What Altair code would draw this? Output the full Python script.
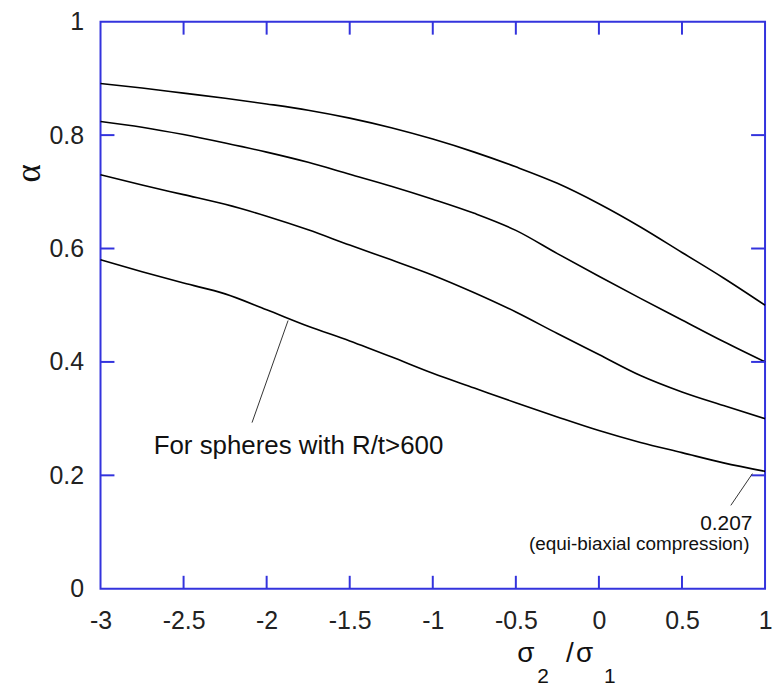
import altair as alt
import pandas as pd

# ---- data ----
x_vals = [-3.0, -2.75, -2.5, -2.25, -2.0, -1.75, -1.5, -1.25, -1.0,
          -0.75, -0.5, -0.25, 0.0, 0.25, 0.5, 0.75, 1.0]
curve_a = [0.891, 0.883, 0.874, 0.865, 0.855, 0.844, 0.830, 0.813, 0.793,
           0.770, 0.744, 0.715, 0.679, 0.638, 0.593, 0.548, 0.500]
curve_b = [0.824, 0.814, 0.801, 0.786, 0.770, 0.752, 0.731, 0.710, 0.687,
           0.662, 0.632, 0.591, 0.551, 0.512, 0.474, 0.436, 0.400]
curve_c = [0.730, 0.712, 0.695, 0.678, 0.657, 0.633, 0.606, 0.580, 0.553,
           0.522, 0.488, 0.450, 0.413, 0.376, 0.347, 0.323, 0.300]
curve_d = [0.580, 0.559, 0.539, 0.520, 0.492, 0.463, 0.437, 0.409, 0.380,
           0.354, 0.328, 0.303, 0.279, 0.258, 0.240, 0.222, 0.207]

x_tick_values = [-3, -2.5, -2, -1.5, -1, -0.5, 0, 0.5, 1]
y_tick_values = [0, 0.2, 0.4, 0.6, 0.8, 1]
inner_x_ticks = [-2.5, -2, -1.5, -1, -0.5, 0, 0.5]
inner_y_ticks = [0.2, 0.4, 0.6, 0.8]

# leader lines (start on curve -> end near label)
lead_x1 = [-1.871, 0.924]
lead_y1 = [0.473, 0.203]
lead_x2 = [-2.088, 0.794]
lead_y2 = [0.293, 0.147]

note_main = "For spheres with R/t>600"
note_value = "0.207"
note_paren = "(equi-biaxial compression)"

# ---- layout / style ----
W, H = 668, 570
BLUE = "#3333dd"
SANS = "Liberation Sans, Arial, Helvetica, sans-serif"

rows = []
for name, ys in [("a", curve_a), ("b", curve_b), ("c", curve_c), ("d", curve_d)]:
    for xv, yv in zip(x_vals, ys):
        rows.append({"ratio": xv, "alpha": yv, "curve": name})
df = pd.DataFrame(rows)

xscale = alt.Scale(domain=[-3, 1], nice=False, zero=False)
yscale = alt.Scale(domain=[0, 1], nice=False, zero=False)

X_AXIS = alt.Axis(values=x_tick_values, title=None, domain=False,
                  ticks=False, grid=False,
                  labelExpr="'' + datum.value", labelFlush=False,
                  labelOverlap=False, labelPadding=20,
                  labelFont=SANS, labelFontSize=25, labelColor="#222")
Y_AXIS = alt.Axis(values=y_tick_values, title="α", domain=False,
                  ticks=False, grid=False,
                  labelExpr="'' + datum.value", labelFlush=False,
                  labelOverlap=False, labelPadding=17,
                  labelFont=SANS, labelFontSize=25, labelColor="#222",
                  titleFont="Liberation Serif, Times New Roman, serif",
                  titleFontSize=35, titleFontWeight="normal",
                  titleColor="#111", titleX=-61, titleY=152,
                  titleBaseline="alphabetic")


def X(field):
    return alt.X(field, scale=xscale, axis=X_AXIS)


def Y(field):
    return alt.Y(field, scale=yscale, axis=Y_AXIS)


curves = alt.Chart(df).mark_line(
    color="black", strokeWidth=1.6, interpolate="monotone"
).encode(x=X("ratio:Q"), y=Y("alpha:Q"), detail="curve:N")

tx = pd.DataFrame({"ratio": inner_x_ticks})
ty = pd.DataFrame({"alpha": inner_y_ticks})
rule_style = dict(color=BLUE, strokeWidth=2)

bottom_ticks = alt.Chart(tx).mark_rule(**rule_style).encode(
    x=X("ratio:Q"), y=alt.value(H - 13), y2=alt.value(H))
top_ticks = alt.Chart(tx).mark_rule(**rule_style).encode(
    x=X("ratio:Q"), y=alt.value(0), y2=alt.value(13))
left_ticks = alt.Chart(ty).mark_rule(**rule_style).encode(
    y=Y("alpha:Q"), x=alt.value(0), x2=alt.value(14))
right_ticks = alt.Chart(ty).mark_rule(**rule_style).encode(
    y=Y("alpha:Q"), x=alt.value(W - 14), x2=alt.value(W))

leads_df = pd.DataFrame({"ratio": lead_x1, "alpha": lead_y1,
                         "ratio2": lead_x2, "alpha2": lead_y2})
leads = alt.Chart(leads_df).mark_rule(color="#333", strokeWidth=1).encode(
    x=X("ratio:Q"), y=Y("alpha:Q"), x2="ratio2:Q", y2="alpha2:Q")

notes_df = pd.DataFrame({
    "ratio": [-2.68, 0.924, 0.906],
    "alpha": [0.238, 0.103, 0.068],
    "label": [note_main, note_value, note_paren],
})


def note(i, align, size):
    return alt.Chart(notes_df.iloc[[i]]).mark_text(
        align=align, baseline="alphabetic", font=SANS, fontSize=size, color="#111"
    ).encode(x=X("ratio:Q"), y=Y("alpha:Q"), text="label:N")


note1 = note(0, "left", 26)
note2 = note(1, "right", 21)
note3 = note(2, "right", 19)


# x-axis title  sigma_2 / sigma_1 built from pieces
def title_piece(txt, px, py, size):
    return alt.Chart(pd.DataFrame({"t": [txt]})).mark_text(
        align="left", baseline="alphabetic", font=SANS, fontSize=size, color="#111"
    ).encode(x=alt.value(px), y=alt.value(py), text="t:N")


xt = [
    title_piece("σ", 419, 644, 28),
    title_piece("2", 439, 665, 21),
    title_piece("/", 468, 644, 28),
    title_piece("σ", 478, 644, 28),
    title_piece("1", 506, 665, 21),
]

chart = alt.layer(
    curves, bottom_ticks, top_ticks, left_ticks, right_ticks, leads,
    note1, note2, note3, *xt
).properties(
    width=W, height=H,
    autosize=alt.AutoSizeParams(type="none"),
    padding={"left": 93, "top": 12, "right": 7, "bottom": 96},
    background="white",
).configure_view(stroke=BLUE, strokeWidth=2)

chart.save("out.html", embed_options={"renderer": "svg", "actions": False})
